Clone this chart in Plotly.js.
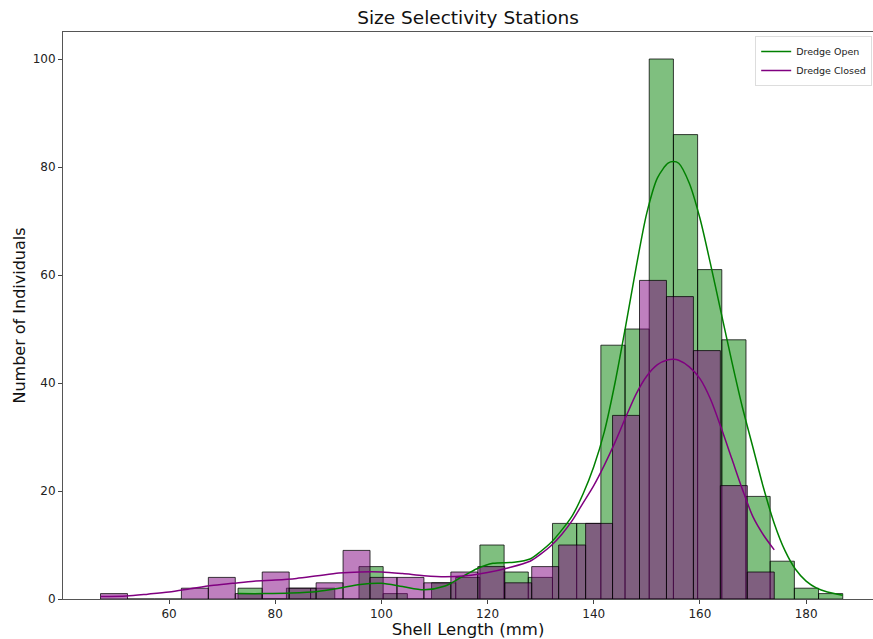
<!DOCTYPE html>
<html>
<head>
<meta charset="utf-8">
<script src="https://cdn.plot.ly/plotly-3.0.1.min.js"></script>
<style>html,body{margin:0;padding:0;background:#fff;}#chart{width:873px;height:639px;}</style>
</head>
<body>
<div id="chart"></div>
<script>
// Histogram bins (start, width) and counts
var openBinStart = 73.0;
var openBinWidth = 4.556;
var openCounts = [2,0,2,2,0,6,1,0,3,4,10,5,4,14,14,47,50,100,86,61,48,19,7,2,1];

var closedBinStart = 47.1;
var closedBinWidth = 5.076;
var closedCounts = [1,0,0,2,4,1,5,2,3,9,4,4,3,5,6,3,6,10,14,34,59,56,46,21,5];

// KDE curves
var openKdeX = [73.0,78,83,88,92,96,100,104,108,112,115,118,121,125,128,130,132,134,136,138,140,142,144,146,148,150,152,154,155,156,158,160,162,164,166,168,170,172,174,176,178,180,182,184,186.9];
var openKdeY = [1.0,1.0,1.1,1.4,2.0,2.7,2.9,2.3,1.7,2.4,4.0,5.6,6.6,6.8,7.4,8.8,10.5,12.8,15.5,19.5,24.5,31,40,50.5,61.5,71.5,78,80.7,81,80.7,77,70.5,62,53,44,35.5,28,20.5,14,9,5.5,3.3,2.0,1.3,0.7];

var closedKdeX = [47.1,52,56,60,64,68,72,76,80,84,88,92,96,100,104,108,112,116,120,124,128,130,132,134,136,138,140,142,144,146,148,150,152,154,155,156,158,160,162,164,166,168,170,172,174];
var closedKdeY = [0.45,0.55,0.9,1.3,1.9,2.5,2.9,3.3,3.5,3.8,4.3,4.8,5.0,5.0,4.7,4.3,4.1,4.3,4.9,5.8,7.0,8.3,9.9,12,14.6,17.8,21,24.8,29,33.6,38,41.3,43.4,44.3,44.4,44.2,43,40.8,37,31.7,26,20.3,15.2,11.8,9.1];

var openLabel = "Dredge Open";
var closedLabel = "Dredge Closed";

function centers(start, width, n) {
  var c = [];
  for (var i = 0; i < n; i++) c.push(start + width * (i + 0.5));
  return c;
}

var edge = {color: "rgba(0,0,0,0.75)", width: 1};

var traces = [
  {
    type: "bar",
    x: centers(openBinStart, openBinWidth, openCounts.length),
    y: openCounts,
    width: openBinWidth,
    marker: {color: "rgba(0,128,0,0.5)", line: edge},
    showlegend: false,
    hoverinfo: "x+y"
  },
  {
    type: "bar",
    x: centers(closedBinStart, closedBinWidth, closedCounts.length),
    y: closedCounts,
    width: closedBinWidth,
    marker: {color: "rgba(128,0,128,0.5)", line: edge},
    showlegend: false,
    hoverinfo: "x+y"
  },
  {
    type: "scatter",
    mode: "lines",
    x: openKdeX,
    y: openKdeY,
    name: openLabel,
    line: {color: "#008000", width: 1.5, shape: "spline", smoothing: 0.8}
  },
  {
    type: "scatter",
    mode: "lines",
    x: closedKdeX,
    y: closedKdeY,
    name: closedLabel,
    line: {color: "#800080", width: 1.5, shape: "spline", smoothing: 0.8}
  }
];

var font = "DejaVu Sans, sans-serif";

var layout = {
  width: 873,
  height: 639,
  margin: {l: 63, r: 0, t: 32, b: 40},
  paper_bgcolor: "#fff",
  plot_bgcolor: "#fff",
  barmode: "overlay",
  bargap: 0,
  font: {family: font, size: 12, color: "#222"},
  title: {
    text: "Size Selectivity Stations",
    font: {family: font, size: 18.5, color: "#111"},
    x: 0.5, xref: "paper", xanchor: "center",
    y: 1 - 18 / 639, yref: "container", yanchor: "middle"
  },
  xaxis: {
    range: [40.03, 192.6],
    tickvals: [60, 80, 100, 120, 140, 160, 180],
    ticks: "outside", ticklen: 4, tickwidth: 1, tickcolor: "#444",
    showline: true, linecolor: "#555", linewidth: 1, mirror: true,
    showgrid: false, zeroline: false,
    tickfont: {family: font, size: 12, color: "#222"},
    title: {text: "Shell Length (mm)", font: {family: font, size: 16.5, color: "#111"}, standoff: 5}
  },
  yaxis: {
    range: [0, 105],
    tickvals: [0, 20, 40, 60, 80, 100],
    ticks: "outside", ticklen: 4, tickwidth: 1, tickcolor: "#444",
    showline: true, linecolor: "#555", linewidth: 1, mirror: false,
    showgrid: false, zeroline: false,
    tickfont: {family: font, size: 12, color: "#222"},
    title: {text: "Number of Individuals", font: {family: font, size: 16, color: "#111"}, standoff: 3}
  },
  legend: {
    x: 0.999, y: 0.993, xanchor: "right", yanchor: "top",
    bgcolor: "rgba(255,255,255,0.8)", bordercolor: "#ddd", borderwidth: 1,
    font: {family: font, size: 9.5, color: "#222"},
    tracegroupgap: 0, itemwidth: 30
  },
  showlegend: true
};

Plotly.newPlot("chart", traces, layout, {displayModeBar: false, staticPlot: true});
</script>
</body>
</html>
